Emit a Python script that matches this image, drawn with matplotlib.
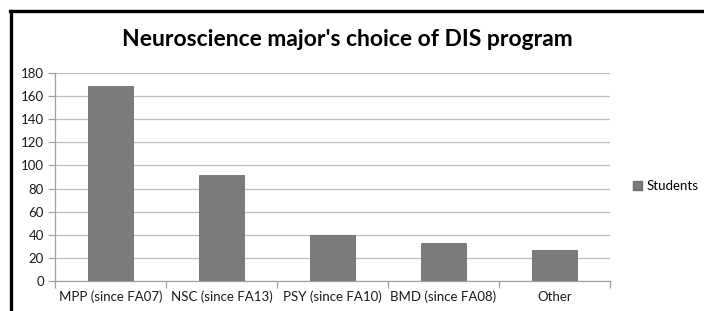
import matplotlib
matplotlib.use('Agg')
import matplotlib.pyplot as plt
from matplotlib.lines import Line2D
from matplotlib.patches import Patch

# data
categories = ['MPP (since FA07)', 'NSC (since FA13)', 'PSY (since FA10)',
              'BMD (since FA08)', 'Other']
students = [169, 92, 40, 33, 27]
y_ticks = [0, 20, 40, 60, 80, 100, 120, 140, 160, 180]

W, H = 704, 311
fig = plt.figure(figsize=(W / 100, H / 100), dpi=100)
plt.rcParams['font.family'] = ['Lato', 'DejaVu Sans']

# black frame on top and left
fig.add_artist(Line2D([11 / W, 11 / W], [0, 1 - 11 / H], transform=fig.transFigure,
                      color='black', linewidth=2.4))
fig.add_artist(Line2D([11 / W - 0.0015, 1], [1 - 11 / H, 1 - 11 / H], transform=fig.transFigure,
                      color='black', linewidth=2.4))

ax = fig.add_axes([55 / W, (H - 281) / H, (610 - 55) / W, (281 - 73) / H])
x = list(range(len(categories)))
ax.bar(x, students, width=0.4, color='#7b7b7b', edgecolor='#6e6e6e', linewidth=0.6, zorder=3)

ax.set_xlim(-0.5, len(categories) - 0.5)
ax.set_ylim(0, 180)
ax.set_yticks(y_ticks)
ax.yaxis.grid(True, color='#bdbdbd', linewidth=0.9, zorder=0)

ax.set_xticks(x)
ax.set_xticklabels(categories, fontsize=9.5, color='#1a1a1a')
ax.tick_params(axis='x', length=0, pad=7)
ax.set_xticks([i - 0.5 for i in range(len(categories) + 1)], minor=True)
ax.tick_params(axis='x', which='minor', length=5, color='#a0a0a0', width=0.9)
ax.tick_params(axis='y', labelsize=9.5, labelcolor='#1a1a1a', length=5,
               color='#a0a0a0', width=0.9, pad=3)

for side in ['top', 'right']:
    ax.spines[side].set_visible(False)
for side in ['left', 'bottom']:
    ax.spines[side].set_color('#a0a0a0')
    ax.spines[side].set_linewidth(0.9)

fig.text(347 / W, 1 - 40 / H, "Neuroscience major's choice of DIS program",
         ha='center', va='center', fontsize=16.5, fontweight='bold', color='black')

fig.legend(handles=[Patch(facecolor='#7b7b7b', edgecolor='#6e6e6e', label='Students')],
           loc='center left', bbox_to_anchor=(633 / W, 1 - 186 / H), frameon=False,
           fontsize=9.5, handlelength=0.7, handleheight=0.7, handletextpad=0.35,
           borderpad=0, borderaxespad=0)

fig.savefig('out.png', dpi=100, facecolor='white')
